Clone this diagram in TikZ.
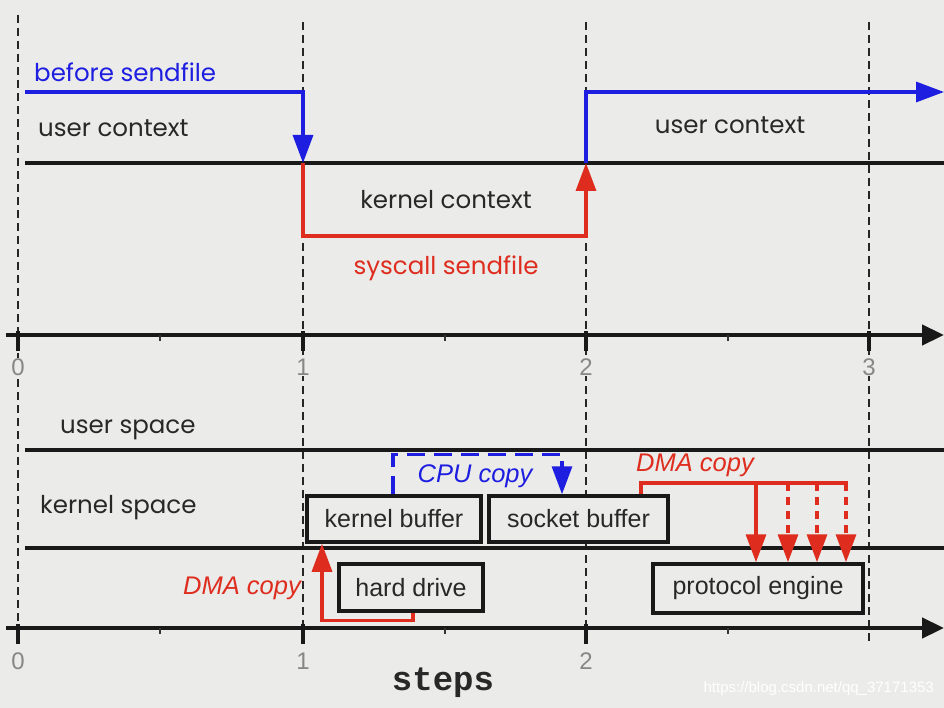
\documentclass[tikz,border=0pt]{standalone}
\usepackage{fontspec}
\setmainfont{Poppins}
\newfontfamily\helv{Liberation Sans}
\newfontfamily\cour{Liberation Mono}
\usetikzlibrary{arrows.meta}
\definecolor{bg}{RGB}{235,235,233}
\definecolor{ublue}{RGB}{30,30,225}
\definecolor{ured}{RGB}{222,45,30}
\definecolor{axgray}{RGB}{135,135,135}
\definecolor{txt}{RGB}{40,40,40}
\begin{document}
\begin{tikzpicture}[x=1pt,y=-1pt,
  bigtip/.style={-{Triangle[length=28pt,width=20pt]}},
  axtip/.style={-{Triangle[length=22pt,width=20pt]}},
  ctx/.style={font=\fontsize{24.5}{27}\selectfont, text=txt, inner sep=0pt},
  lbl/.style={font=\helv\itshape\fontsize{25.5}{28}\selectfont, inner sep=0pt},
  digit/.style={font=\helv\fontsize{24}{26}\selectfont, text=axgray, fill=bg, inner sep=1pt},
  guide/.style={line width=2.8pt, dash pattern=on 8pt off 5pt, black!85},
  sep/.style={line width=3.5pt, black!90},
  axis/.style={line width=4.5pt, black!90},
  bline/.style={line width=3.3pt, ublue},
  rline/.style={line width=3.3pt, ured},
  box/.style={draw=black!90, line width=3.5pt, fill=bg, inner sep=0pt, text=txt,
              font=\helv\fontsize{25}{27}\selectfont}
]
\fill[bg] (0,0) rectangle (944,708);
\useasboundingbox (0,0) rectangle (944,708);

% dashed step guides
\foreach \x/\t in {18/15,303/22,586/22,869/22}
  \draw[guide] (\x,\t) -- (\x,642);

% time axes
\draw[axis,axtip] (6,335) -- (944,335);
\draw[axis,axtip] (6,628) -- (944,628);
\foreach \y in {335,628}{
  \foreach \x in {18,303,586}
    \draw[line width=4pt,black!90] (\x,\y-4) -- (\x,\y+16);
  \foreach \x in {160,445,728}
    \draw[line width=1.8pt,black!80] (\x,\y) -- (\x,\y+6);
}
\draw[line width=4pt,black!90] (869,331) -- (869,351);

\node[digit] (t0) at (18,367) {0};
\node[digit] (t1) at (303,367) {1};
\node[digit] (t2) at (586,367) {2};
\node[digit] (t3) at (869,367) {3};
\node[digit] (b0) at (18,661) {0};
\node[digit] (b1) at (303,661) {1};
\node[digit] (b2) at (586,661) {2};
\node[font=\cour\bfseries\fontsize{34}{36}\selectfont, text=txt, inner sep=0pt] (steps) at (443,683) {steps};

% ---- upper: contexts
\draw[sep] (25,163) -- (944,163);
\coordinate (bs) at (25,92);
\coordinate (bc1) at (303,92);
\coordinate (enter) at (303,163);
\coordinate (leave) at (586,163);
\coordinate (bc2) at (586,92);
\coordinate (be) at (944,92);
\coordinate (rc1) at (303,236);
\coordinate (rc2) at (586,236);

\draw[rline,bigtip] (enter) -- (rc1) -- (rc2) -- (leave);
\draw[bline,bigtip] (bs) -- (bc1) -- (enter);
\draw[bline,bigtip] (leave) -- (bc2) -- (be);

\node[ctx, text=ublue, anchor=west] (before) at (34,72) {before sendfile};
\node[ctx, anchor=west] (uc1) at (38,128) {user context};
\node[ctx] (kc) at (446,200) {kernel context};
\node[ctx, text=ured] (sys) at (446,268) {syscall sendfile};
\node[ctx] (uc2) at (730,125) {user context};

% ---- lower: spaces
\draw[sep] (25,450) -- (944,450);
\draw[sep] (25,548) -- (944,548);
\node[ctx, anchor=west] (us) at (60,430) {user space};
\node[ctx, anchor=west] (ks) at (40,508) {kernel space};

\node[box, minimum width=174pt, minimum height=46pt] (kb) at (394,519) {kernel buffer};
\node[box, minimum width=179pt, minimum height=46pt] (sb) at (578.5,519) {socket buffer};
\node[box, minimum width=144pt, minimum height=47pt] (hd) at (411,587.5) {hard drive};
\node[box, minimum width=210pt, minimum height=49pt] (pe) at (758,588.5) {protocol engine};

% CPU copy
\draw[line width=3.3pt, ublue, dash pattern=on 18pt off 9pt, bigtip]
  ([xshift=-1pt]kb.north) -- ++(0,-40) -| ([xshift=-16.5pt]sb.north);
\node[lbl, text=ublue] (cpu) at (475,476) {CPU copy};

% DMA copy (disk -> kernel buffer)
\draw[rline,bigtip] ([xshift=2pt]hd.south) -- ++(0,8) -| ([xshift=-72pt]kb.south);
\node[lbl, text=ured, anchor=east] (dma1) at (301,588) {DMA copy};

% DMA copy (socket buffer -> protocol engine)
\coordinate (d0) at ([xshift=62.5pt]sb.north);
\coordinate (d1) at (641,483);
\coordinate (d2) at (848,483);
\draw[rline] (d0) -- (d1) -- (d2);
\draw[rline,bigtip] (756,483) -- (756,483 |- pe.north);
\foreach \x in {788,817,846}
  \draw[rline, dash pattern=on 8pt off 6pt, bigtip] (\x,483) -- (\x,483 |- pe.north);
\node[lbl, text=ured] (dma2) at (695,465) {DMA copy};

% watermark
\node[font=\helv\fontsize{15}{16}\selectfont, text=white, anchor=east, inner sep=0pt] (wm) at (934,689) {https://blog.csdn.net/qq\_37171353};
\end{tikzpicture}
\end{document}
